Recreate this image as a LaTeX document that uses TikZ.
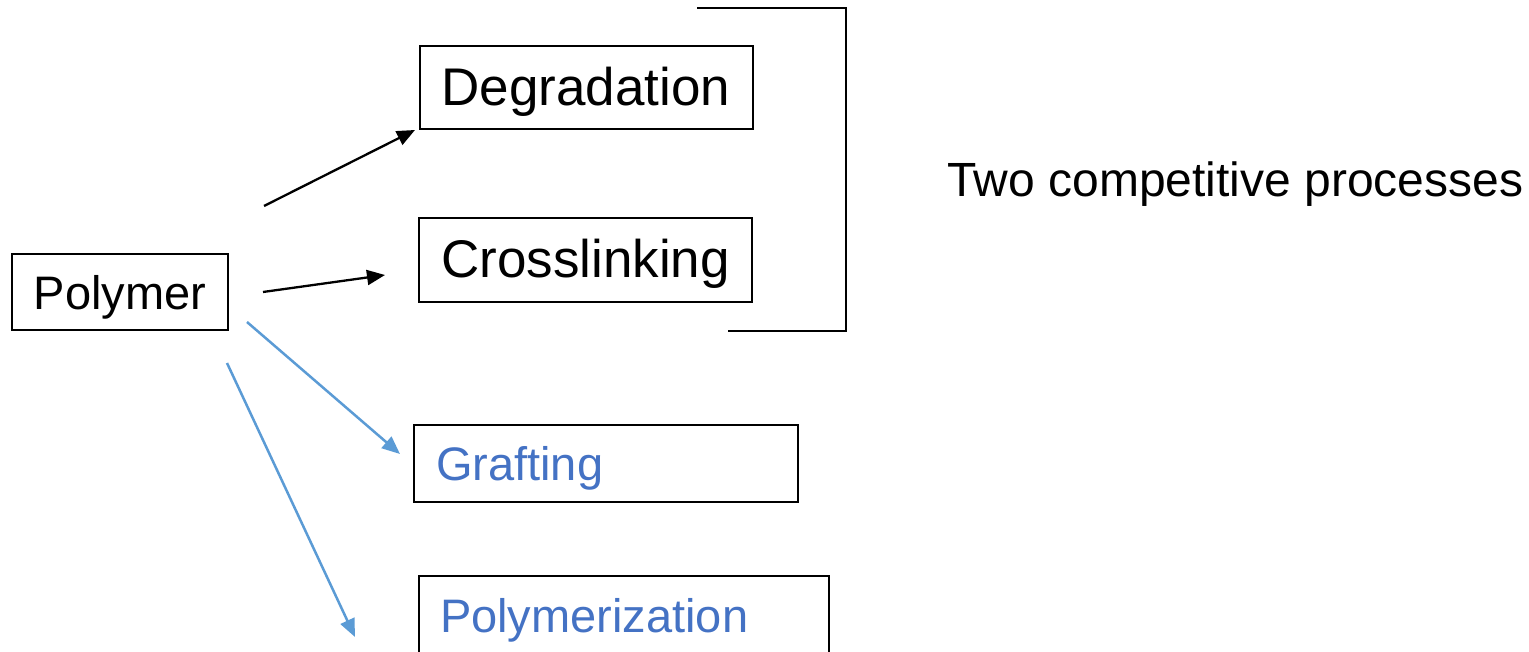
\documentclass[tikz,border=0pt]{standalone}
\usepackage{fontspec}
\setmainfont{Liberation Sans}
\usetikzlibrary{arrows.meta}
\definecolor{arrowblue}{HTML}{5B9BD5}
\definecolor{textblue}{HTML}{4472C4}
\begin{document}
\begin{tikzpicture}[x=1pt,y=-1pt,
  box/.style={draw=black, line width=2pt, inner ysep=0pt, inner xsep=0pt},
  big/.style={font=\fontsize{53}{60}\selectfont, text height=38pt, text depth=2pt},
  mid/.style={font=\fontsize{47}{56}\selectfont, text height=33.6pt, text depth=0pt},
  leftbox/.style={inner xsep=#1, align=left},
  blacktip/.style={line width=2.3pt, draw=black, -{Triangle[length=18pt,width=15pt]}},
  bluetip/.style={line width=2.5pt, draw=arrowblue, -{Triangle[length=18pt,width=15pt]}},
  bracketline/.style={line width=1.3pt, draw=black}
]
\useasboundingbox (0,0) rectangle (1529,652);
\clip (0,0) rectangle (1529,652);

\node[box, big, minimum width=333pt, minimum height=83pt] (deg) at (586,87.5) {Degradation};
\node[box, big, minimum width=333pt, minimum height=84pt] (cross) at (585.5,260) {Crosslinking};
\node[box, mid, minimum width=216pt, minimum height=76pt] (poly) at (120,292.5) {Polymer};
\node[box, mid, leftbox=22pt, text width=340pt, minimum height=77pt, text=textblue] (graft) at (606,463.5) {Grafting};
\node[box, mid, leftbox=21pt, text width=368pt, minimum height=80pt, text=textblue] (polymz) at (624,616) {Polymerization};
\node[font=\fontsize{48}{56}\selectfont, inner sep=0pt, anchor=base west] (two) at (947,197) {Two competitive processes};

\coordinate (a1s) at (264,206);
\coordinate (a1e) at (415,130);
\coordinate (a2s) at (263,292);
\coordinate (a2e) at (385,275);
\coordinate (b1s) at (247,322);
\coordinate (b1e) at (400,454);
\coordinate (b2s) at (227,363);
\coordinate (b2e) at (355,637);

\draw[blacktip] (a1s) -- (a1e);
\draw[blacktip] (a2s) -- (a2e);
\draw[bluetip] (b1s) -- (b1e);
\draw[bluetip] (b2s) -- (b2e);

\coordinate (br1) at (697,8);
\coordinate (br2) at (846,8);
\coordinate (br3) at (846,331);
\coordinate (br4) at (728,331);
\draw[bracketline] (br1) -- (br2) -- (br3) -- (br4);
\end{tikzpicture}
\end{document}
